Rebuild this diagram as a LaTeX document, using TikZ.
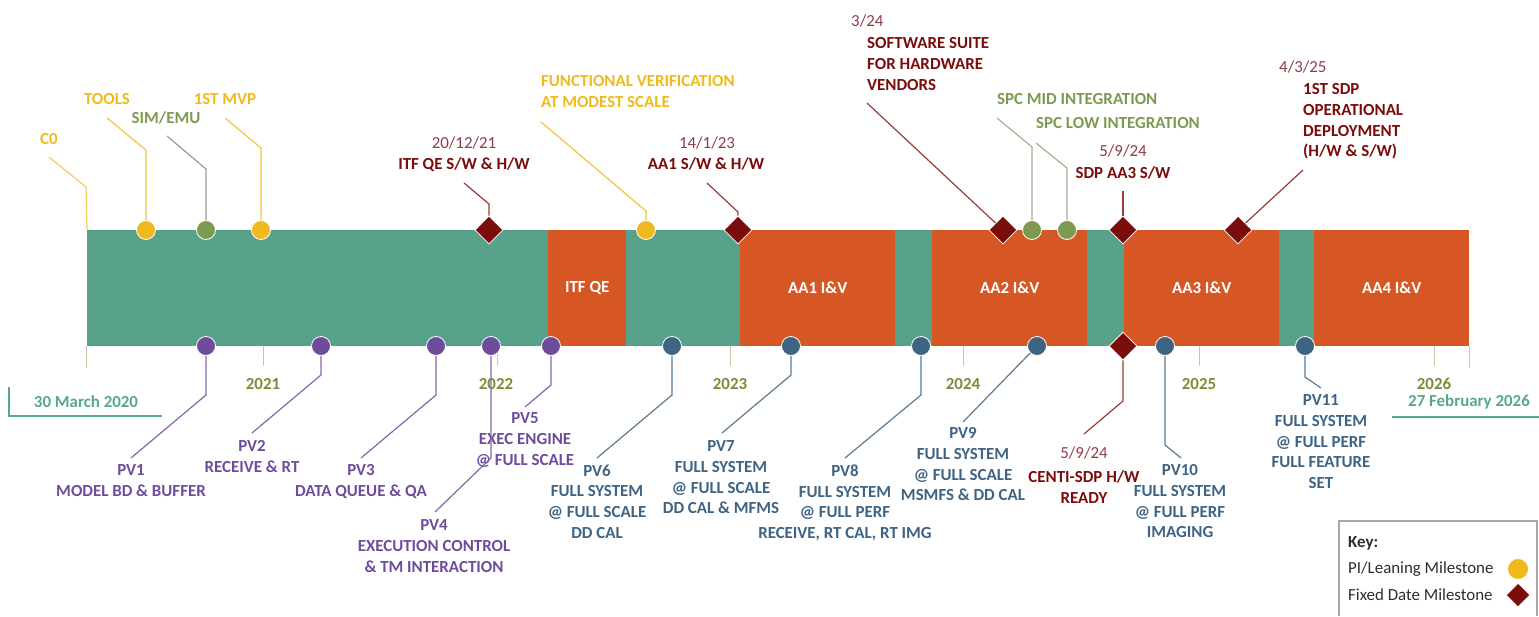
\documentclass[tikz,border=0pt]{standalone}
\usepackage{fontspec}
\setmainfont{Carlito}
\usetikzlibrary{shapes.geometric}
\definecolor{phasegreen}{RGB}{88,161,138}
\definecolor{phaseorange}{RGB}{214,87,35}
\definecolor{piyellow}{RGB}{240,186,30}
\definecolor{spcolive}{RGB}{125,154,80}
\definecolor{fixedred}{RGB}{122,12,12}
\definecolor{daterose}{RGB}{140,62,72}
\definecolor{pvpurple}{RGB}{110,76,155}
\definecolor{pvslate}{RGB}{62,99,131}
\definecolor{yearolive}{RGB}{125,140,55}
\definecolor{endteal}{RGB}{86,168,138}
\definecolor{keygrey}{RGB}{45,45,45}
\def\msfont{\fontsize{16.9}{20.7}\selectfont\bfseries}
\def\datefont{\fontsize{16.9}{20.7}\selectfont}

\begin{document}
\begin{tikzpicture}[x=1pt,y=-1pt,
	lbl/.style={font=\msfont,inner sep=0pt},
	datelbl/.style={font=\datefont,text=daterose,inner sep=0pt},
	pvlbl/.style={font=\msfont,inner sep=0pt,anchor=north,align=center},
	band/.style={anchor=north west,minimum height=116pt,inner sep=0pt,text=white,font=\msfont},
	dot/.style={circle,draw=white,line width=0.8pt,minimum size=19pt,inner sep=0pt},
	fixed/.style={diamond,draw=white,line width=0.8pt,fill=fixedred,minimum width=28pt,minimum height=28pt,inner sep=0pt},
	lead/.style={line width=1.2pt},
	tick/.style={line width=1pt,yearolive!45}]
	\useasboundingbox (0,0) rectangle (1539,616);

	% phases along the bar
	\node[band,fill=phasegreen,minimum width=461pt] (b1) at (87,230) {};
	\node[band,fill=phaseorange,minimum width=78pt] (b2) at (548,230) {ITF QE};
	\node[band,fill=phasegreen,minimum width=114pt] (b3) at (626,230) {};
	\node[band,fill=phaseorange,minimum width=155pt] (b4) at (740,230) {AA1 I\&V};
	\node[band,fill=phasegreen,minimum width=37pt] (b5) at (895,230) {};
	\node[band,fill=phaseorange,minimum width=155pt] (b6) at (932,230) {AA2 I\&V};
	\node[band,fill=phasegreen,minimum width=37pt] (b7) at (1087,230) {};
	\node[band,fill=phaseorange,minimum width=155pt] (b8) at (1124,230) {AA3 I\&V};
	\node[band,fill=phasegreen,minimum width=35pt] (b9) at (1279,230) {};
	\node[band,fill=phaseorange,minimum width=155pt] (b10) at (1314,230) {AA4 I\&V};

	% year ticks
	\draw[tick] (86,346) -- (86,368);
	\draw[tick] (263,346) -- (263,366);
	\draw[tick] (497,346) -- (497,366);
	\draw[tick] (730,346) -- (730,366);
	\draw[tick] (963,346) -- (963,366);
	\draw[tick] (1199,346) -- (1199,366);
	\draw[tick] (1434,346) -- (1434,366);
	\draw[tick] (1469,346) -- (1469,368);
	\node[lbl,text=yearolive] (yr2021) at (263,384) {2021};
	\node[lbl,text=yearolive] (yr2022) at (496,384) {2022};
	\node[lbl,text=yearolive] (yr2023) at (730,384) {2023};
	\node[lbl,text=yearolive] (yr2024) at (963,384) {2024};
	\node[lbl,text=yearolive] (yr2025) at (1199,384) {2025};
	\node[lbl,text=yearolive] (yr2026) at (1434,384) {2026};

	% start and end dates
	\node[lbl,text=endteal] (startdate) at (86,402) {30 March 2020};
	\draw[line width=1.2pt,endteal] (9,387) -- (9,416) -- (162,416);
	\node[lbl,text=endteal] (enddate) at (1469,402) {27 February 2026};
	\draw[line width=1.2pt,endteal] (1392,417) -- (1539,417);

	% milestones above the bar
	\node[dot,fill=piyellow] (tools) at (146,230) {};
	\node[dot,fill=spcolive] (simemu) at (206,230) {};
	\node[dot,fill=piyellow] (mvp) at (261,230) {};
	\node[fixed] (itfqe) at (489,230) {};
	\node[dot,fill=piyellow] (funcver) at (646,230) {};
	\node[fixed] (aa1) at (738,230) {};
	\node[fixed] (suite) at (1003,230) {};
	\node[dot,fill=spcolive] (spcmid) at (1032,230) {};
	\node[dot,fill=spcolive] (spclow) at (1067,230) {};
	\node[fixed] (aa3sw) at (1123,230) {};
	\node[fixed] (opsdp) at (1238,230) {};

	\node[lbl,text=piyellow] (c0lbl) at (49,139) {C0};
	\node[lbl,text=piyellow] (toolslbl) at (107,99) {TOOLS};
	\node[lbl,text=spcolive] (simlbl) at (166,118) {SIM/EMU};
	\node[lbl,text=piyellow] (mvplbl) at (225,99) {1ST MVP};
	\node[datelbl] (itfdate) at (464,143) {20/12/21};
	\node[lbl,text=fixedred] (itflbl) at (464,165) {ITF QE S/W \& H/W};
	\node[lbl,text=piyellow,anchor=north west,align=left] (fvlbl) at (541,75.5) {FUNCTIONAL VERIFICATION\\AT MODEST SCALE};
	\node[datelbl] (aa1date) at (707,143) {14/1/23};
	\node[lbl,text=fixedred] (aa1lbl) at (706,164) {AA1 S/W \& H/W};
	\node[datelbl,anchor=west] (suitedate) at (851,21) {3/24};
	\node[lbl,text=fixedred,anchor=north west,align=left] (suitelbl) at (867,37.5) {SOFTWARE SUITE\\FOR HARDWARE\\VENDORS};
	\node[lbl,text=spcolive,anchor=west] (spcmidlbl) at (997,99) {SPC MID INTEGRATION};
	\node[lbl,text=spcolive,anchor=west] (spclowlbl) at (1036,123) {SPC LOW INTEGRATION};
	\node[datelbl] (aa3date) at (1123,151) {5/9/24};
	\node[lbl,text=fixedred] (aa3lbl) at (1123,173) {SDP AA3 S/W};
	\node[datelbl,anchor=west] (sdpdate) at (1279,67) {4/3/25};
	\node[lbl,text=fixedred,anchor=north west,align=left] (sdplbl) at (1303,83.5) {1ST SDP\\OPERATIONAL\\DEPLOYMENT\\(H/W \& S/W)};

	\coordinate (c0a) at (49,157); \coordinate (c0b) at (86,187);
	\draw[lead,piyellow!75] (c0a) -- (c0b) -- (b1.north west);
	\coordinate (toolsa) at (107,118); \coordinate (toolsb) at (146,150);
	\draw[lead,piyellow!85] (toolsa) -- (toolsb) -- (tools);
	\coordinate (sima) at (167,136); \coordinate (simb) at (206,169);
	\draw[lead,gray!80] (sima) -- (simb) -- (simemu);
	\coordinate (mvpa) at (225,118); \coordinate (mvpb) at (261,148);
	\draw[lead,piyellow!85] (mvpa) -- (mvpb) -- (mvp);
	\coordinate (itfa) at (464,183); \coordinate (itfb) at (489,204);
	\draw[lead,fixedred!80] (itfa) -- (itfb) -- (itfqe);
	\coordinate (fva) at (541,122); \coordinate (fvb) at (646,211);
	\draw[lead,piyellow!85] (fva) -- (fvb) -- (funcver);
	\coordinate (aa1a) at (707,183); \coordinate (aa1b) at (738,212);
	\draw[lead,fixedred!80] (aa1a) -- (aa1b) -- (aa1);
	\coordinate (suitea) at (867,103);
	\draw[lead,fixedred!80] (suitea) -- (suite);
	\coordinate (spcmida) at (997,118); \coordinate (spcmidb) at (1032,147);
	\draw[lead,spcolive!60!gray!70] (spcmida) -- (spcmidb) -- (spcmid);
	\coordinate (spclowa) at (1036,143); \coordinate (spclowb) at (1067,168);
	\draw[lead,spcolive!60!gray!70] (spclowa) -- (spclowb) -- (spclow);
	\coordinate (aa3a) at (1123,191);
	\draw[lead,fixedred!80] (aa3a) -- (aa3sw);
	\coordinate (opsdpa) at (1303,170);
	\draw[lead,fixedred!80] (opsdpa) -- (opsdp);

	% milestones below the bar
	\node[dot,fill=pvpurple] (pv1) at (206,346) {};
	\node[dot,fill=pvpurple] (pv2) at (321,346) {};
	\node[dot,fill=pvpurple] (pv3) at (436,346) {};
	\node[dot,fill=pvpurple] (pv4) at (491,346) {};
	\node[dot,fill=pvpurple] (pv5) at (551,346) {};
	\node[dot,fill=pvslate] (pv6) at (672,346) {};
	\node[dot,fill=pvslate] (pv7) at (791,346) {};
	\node[dot,fill=pvslate] (pv8) at (921,346) {};
	\node[dot,fill=pvslate] (pv9) at (1037,346) {};
	\node[fixed] (centi) at (1123,346) {};
	\node[dot,fill=pvslate] (pv10) at (1165,346) {};
	\node[dot,fill=pvslate] (pv11) at (1305,346) {};

	\node[pvlbl,text=pvpurple] (pv1lbl) at (131,464.5) {PV1\\MODEL BD \& BUFFER};
	\node[pvlbl,text=pvpurple] (pv2lbl) at (252,440.5) {PV2\\RECEIVE \& RT};
	\node[pvlbl,text=pvpurple] (pv3lbl) at (361,464.5) {PV3\\DATA QUEUE \& QA};
	\node[pvlbl,text=pvpurple] (pv4lbl) at (434,519.5) {PV4\\EXECUTION CONTROL\\\& TM INTERACTION};
	\node[pvlbl,text=pvpurple] (pv5lbl) at (525,412.5) {PV5\\EXEC ENGINE\\@ FULL SCALE};
	\node[pvlbl,text=pvslate] (pv6lbl) at (597,464.5) {PV6\\FULL SYSTEM\\@ FULL SCALE\\DD CAL};
	\node[pvlbl,text=pvslate] (pv7lbl) at (721,440.5) {PV7\\FULL SYSTEM\\@ FULL SCALE\\DD CAL \& MFMS};
	\node[pvlbl,text=pvslate] (pv8lbl) at (845,464.5) {PV8\\FULL SYSTEM\\@ FULL PERF\\RECEIVE, RT CAL, RT IMG};
	\node[pvlbl,text=pvslate] (pv9lbl) at (963,427.5) {PV9\\FULL SYSTEM\\@ FULL SCALE\\MSMFS \& DD CAL};
	\node[datelbl] (centidate) at (1084,453) {5/9/24};
	\node[pvlbl,text=fixedred] (centilbl) at (1084,470.5) {CENTI-SDP H/W\\READY};
	\node[pvlbl,text=pvslate] (pv10lbl) at (1180,464.5) {PV10\\FULL SYSTEM\\@ FULL PERF\\IMAGING};
	\node[pvlbl,text=pvslate] (pv11lbl) at (1321,394.5) {PV11\\FULL SYSTEM\\@ FULL PERF\\FULL FEATURE\\SET};

	\coordinate (pv1b) at (206,395); \coordinate (pv1e) at (131,458);
	\draw[lead,pvpurple!85] (pv1) -- (pv1b) -- (pv1e);
	\coordinate (pv2b) at (321,375); \coordinate (pv2e) at (252,433);
	\draw[lead,pvpurple!85] (pv2) -- (pv2b) -- (pv2e);
	\coordinate (pv3b) at (436,395); \coordinate (pv3e) at (361,458);
	\draw[lead,pvpurple!85] (pv3) -- (pv3b) -- (pv3e);
	\coordinate (pv4b) at (491,458); \coordinate (pv4e) at (435,512);
	\draw[lead,pvpurple!85] (pv4) -- (pv4b) -- (pv4e);
	\coordinate (pv5b) at (551,385); \coordinate (pv5e) at (525,407);
	\draw[lead,pvpurple!85] (pv5) -- (pv5b) -- (pv5e);
	\coordinate (pv6b) at (672,395); \coordinate (pv6e) at (597,458);
	\draw[lead,pvslate!85] (pv6) -- (pv6b) -- (pv6e);
	\coordinate (pv7b) at (791,375); \coordinate (pv7e) at (722,433);
	\draw[lead,pvslate!85] (pv7) -- (pv7b) -- (pv7e);
	\coordinate (pv8b) at (921,395); \coordinate (pv8e) at (845,458);
	\draw[lead,pvslate!85] (pv8) -- (pv8b) -- (pv8e);
	\coordinate (pv9e) at (963,422);
	\draw[lead,pvslate!85] (pv9) -- (pv9e);
	\coordinate (centib) at (1123,401); \coordinate (centie) at (1084,434);
	\draw[lead,fixedred!80] (centi) -- (centib) -- (centie);
	\coordinate (pv10b) at (1165,445); \coordinate (pv10e) at (1181,458);
	\draw[lead,pvslate!85] (pv10) -- (pv10b) -- (pv10e);
	\coordinate (pv11b) at (1305,377); \coordinate (pv11e) at (1321,388);
	\draw[lead,pvslate!85] (pv11) -- (pv11b) -- (pv11e);

	% key
	\draw[line width=1.5pt,gray!70] (1339,616) |- (1537,521) -- (1537,616);
	\node[lbl,text=keygrey,anchor=west] (keytitle) at (1348,543) {Key:};
	\node[datelbl,text=keygrey,anchor=west] (keypi) at (1348,569) {PI/Leaning Milestone};
	\node[dot,fill=piyellow,minimum size=21pt] (keydot) at (1518,569) {};
	\node[datelbl,text=keygrey,anchor=west] (keyfixed) at (1348,595) {Fixed Date Milestone};
	\node[fixed,minimum width=24pt,minimum height=24pt] (keydiamond) at (1518,595) {};
\end{tikzpicture}
\end{document}
